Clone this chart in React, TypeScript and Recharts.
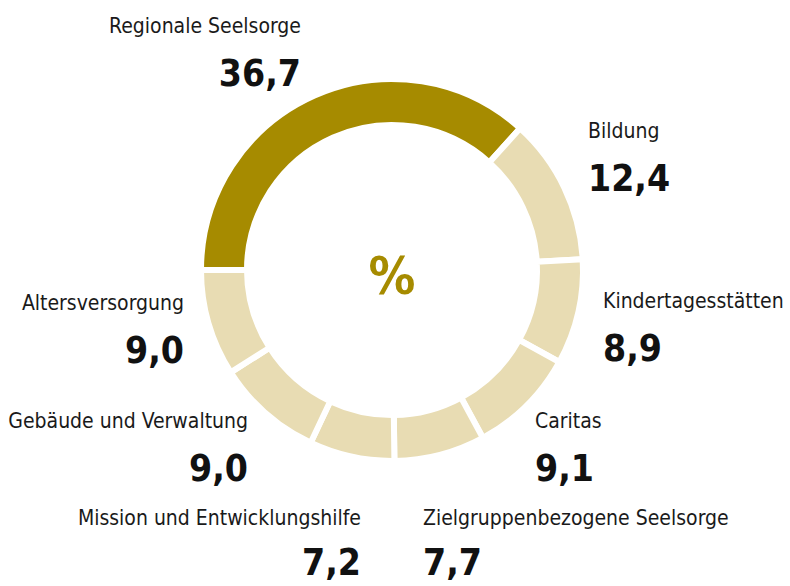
import React from 'react';
import { PieChart, Pie, Cell } from 'recharts';

const categories = [
  'Regionale Seelsorge',
  'Bildung',
  'Kindertagesstätten',
  'Caritas',
  'Zielgruppenbezogene Seelsorge',
  'Mission und Entwicklungshilfe',
  'Gebäude und Verwaltung',
  'Altersversorgung',
];
const shares = [36.7, 12.4, 8.9, 9.1, 7.7, 7.2, 9.0, 9.0];
const centerText = '%';

const DARK = '#a68b00';
const LIGHT = '#e8dcb3';
const FONT = '"DejaVu Sans Condensed", "Liberation Sans Narrow", "DejaVu Sans", sans-serif';

const data = categories.map((name, i) => ({ name, value: shares[i] }));

// label anchors relative to pie centre: [dx, dy(name baseline), text-anchor, value gap]
const LABEL_LAYOUT: [number, number, 'start' | 'end', number][] = [
  [-91, -237, 'end', 53],
  [196, -132, 'start', 53],
  [211, 38, 'start', 53],
  [143, 158, 'start', 53],
  [31, 255, 'start', 50],
  [-31, 255, 'end', 50],
  [-144, 158, 'end', 53],
  [-208, 40, 'end', 53],
];

const fmt = (v: number) => v.toFixed(1).replace('.', ',');

const renderLabel = (props: any) => {
  const { cx, cy, index, value, name } = props;
  const [dx, dy, anchor, gap] = LABEL_LAYOUT[index];
  const x = cx + dx;
  const y = cy + dy;
  return (
    <g key={`lbl-${index}`}>
      {index === 0 && (
        <text
          x={cx}
          y={cy + 24}
          textAnchor="middle"
          fill={DARK}
          fontFamily={FONT}
          fontWeight="bold"
          fontSize={52}
        >
          {centerText}
        </text>
      )}
      <text x={x} y={y} textAnchor={anchor} fontFamily={FONT} fontSize={21} fill="#1a1a1a">
        {name}
      </text>
      <text x={x} y={y + gap} textAnchor={anchor} fontFamily={FONT} fontSize={37} fontWeight="bold" fill="#111">
        {fmt(value)}
      </text>
    </g>
  );
};

export default function App() {
  return (
    <div style={{ position: 'absolute', left: 0, top: 0, width: 790, height: 586, background: '#fff' }}>
      <PieChart width={790} height={586} margin={{ top: 0, right: 0, bottom: 0, left: 0 }}>
        <Pie
          data={data}
          dataKey="value"
          nameKey="name"
          cx={392}
          cy={270}
          innerRadius={145}
          outerRadius={191}
          startAngle={180}
          endAngle={-180}
          stroke="#ffffff"
          strokeWidth={6}
          isAnimationActive={false}
          labelLine={false}
          label={renderLabel}
        >
          {data.map((d, i) => (
            <Cell key={d.name} fill={i === 0 ? DARK : LIGHT} />
          ))}
        </Pie>
      </PieChart>
    </div>
  );
}
